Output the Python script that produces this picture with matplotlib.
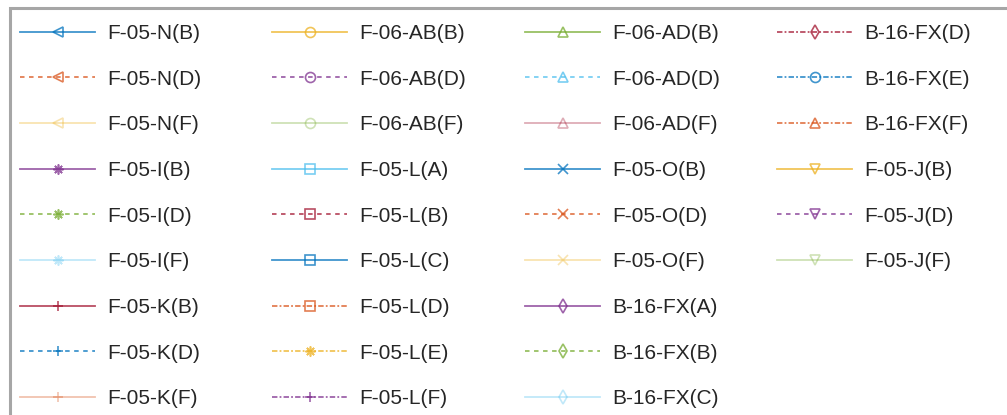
import matplotlib.pyplot as plt
from matplotlib.patches import Rectangle

W, H = 1007, 415

# MATLAB default line colours, cycled in entry order
colors = ['#0072BD', '#D95319', '#EDB120', '#7E2F8E', '#77AC30', '#4DBEEE', '#A2142F']

labels_c1 = ['F-05-N(B)', 'F-05-N(D)', 'F-05-N(F)',
             'F-05-I(B)', 'F-05-I(D)', 'F-05-I(F)',
             'F-05-K(B)', 'F-05-K(D)', 'F-05-K(F)']
labels_c2 = ['F-06-AB(B)', 'F-06-AB(D)', 'F-06-AB(F)',
             'F-05-L(A)', 'F-05-L(B)', 'F-05-L(C)',
             'F-05-L(D)', 'F-05-L(E)', 'F-05-L(F)']
labels_c3 = ['F-06-AD(B)', 'F-06-AD(D)', 'F-06-AD(F)',
             'F-05-O(B)', 'F-05-O(D)', 'F-05-O(F)',
             'B-16-FX(A)', 'B-16-FX(B)', 'B-16-FX(C)']
labels_c4 = ['B-16-FX(D)', 'B-16-FX(E)', 'B-16-FX(F)',
             'F-05-J(B)', 'F-05-J(D)', 'F-05-J(F)']

AST = (8, 2, 0)  # asterisk
markers_c1 = ['<', '<', '<', AST, AST, AST, '+', '+', '+']
markers_c2 = ['o', 'o', 'o', 's', 's', 's', 's', AST, '+']
markers_c3 = ['^', '^', '^', 'x', 'x', 'x', 'd', 'd', 'd']
markers_c4 = ['d', 'o', '^', 'v', 'v', 'v']

# '-' solid, ':' dotted, 'f' faded solid, '-.' dash-dot
styles_c1 = ['-', ':', 'f', '-', ':', 'f', '-', ':', 'f']
styles_c2 = ['-', ':', 'f', '-', ':', '-', '-.', '-.', '-.']
styles_c3 = ['-', ':', 'f', '-', ':', 'f', '-', ':', 'f']
styles_c4 = ['-.', '-.', '-.', '-', ':', 'f']

plt.rcParams['font.family'] = ['Liberation Sans', 'DejaVu Sans']

fig = plt.figure(figsize=(W / 100, H / 100), dpi=100)
ax = fig.add_axes([0, 0, 1, 1])
ax.set_axis_off()

dash = {'-': '-', 'f': '-', ':': (0, (2.5, 2.5)), '-.': (0, (3, 1.2, 1, 1.2))}

columns = [(labels_c1, markers_c1, styles_c1),
           (labels_c2, markers_c2, styles_c2),
           (labels_c3, markers_c3, styles_c3),
           (labels_c4, markers_c4, styles_c4)]
col_x = [20, 272, 525, 777]

k = 0
for (labs, mks, sts), x0 in zip(columns, col_x):
    handles = []
    for lab, mk, st in zip(labs, mks, sts):
        c = colors[k % 7]
        k += 1
        alpha = 0.35 if st == 'f' else 0.75
        h, = ax.plot([], [], color=c, alpha=alpha, linestyle=dash[st],
                     linewidth=1.3, marker=mk, markersize=7.2,
                     markerfacecolor='none', markeredgecolor=c,
                     markeredgewidth=1.2, label=lab)
        handles.append(h)
    leg = fig.legend(handles=handles, loc='upper left',
                     bbox_to_anchor=(x0 / W, 1 - 24 / H),
                     bbox_transform=fig.transFigure,
                     frameon=False, fontsize=15, borderpad=0, borderaxespad=0,
                     handlelength=3.6, handletextpad=0.58,
                     labelspacing=1.28, numpoints=1, labelcolor='#262626')

# legend box edge (runs past the right and bottom of the figure)
fig.patches.append(Rectangle((10 / W, -1), 2, 1 + (1 - 8 / H),
                             transform=fig.transFigure, fill=False,
                             edgecolor='#a6a6a6', linewidth=2.2))

fig.savefig('out.png', dpi=100)
